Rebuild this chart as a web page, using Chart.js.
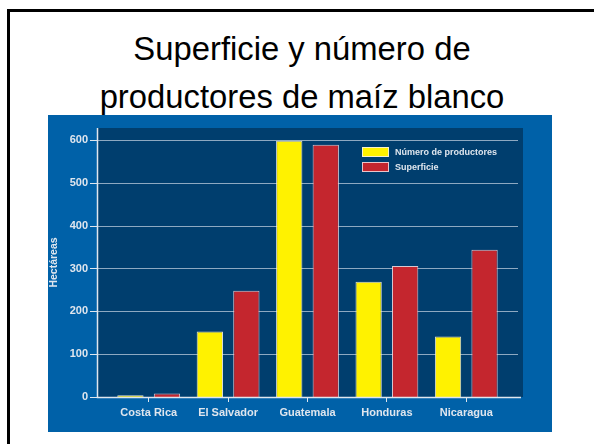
<!DOCTYPE html>
<html lang="es">
<head>
<meta charset="utf-8">
<script src="https://cdn.jsdelivr.net/npm/chart.js@4/dist/chart.umd.min.js"></script>
<style>
  html, body { margin: 0; padding: 0; background: #fff; }
  body { width: 594px; height: 444px; position: relative; overflow: hidden; }
  #frame {
    position: absolute; left: 7px; top: 9px; width: 600px; height: 450px;
    border-left: 3px solid #000; border-top: 3px solid #000;
  }
  #titulo {
    position: absolute; left: 7px; top: 25px; width: 590px;
    text-align: center; font-family: "Liberation Sans", Arial, sans-serif;
    font-size: 32.8px; line-height: 47.5px; color: #000;
  }
  #caja { position: absolute; left: 48px; top: 115px; width: 504px; height: 317px; background: #0061a8; }
</style>
</head>
<body>
<div id="frame"></div>
<div id="titulo">Superficie y número de<br>productores de maíz blanco</div>
<div id="caja"><canvas id="grafico" width="504" height="317"></canvas></div>

<script>
// ── Datos ──
const paises = ['Costa Rica', 'El Salvador', 'Guatemala', 'Honduras', 'Nicaragua'];
const productores = [4, 153, 598, 269, 141];
const superficie = [8, 248, 589, 306, 344];
const ticksY = [0, 100, 200, 300, 400, 500, 600];

const AZUL_OSCURO = '#003e6e';
const TEXTO = '#dfe6ee';
const fuente = { family: '"Liberation Sans", Arial, sans-serif', weight: 'bold', size: 11 };

// fondo oscuro, rejilla y ejes dibujados a mano para calzar con la lámina
const fondoPlugin = {
  id: 'fondo',
  beforeDraw(chart) {
    const { ctx, chartArea } = chart;
    const x0 = chartArea.left - 12;
    ctx.save();
    ctx.fillStyle = AZUL_OSCURO;
    ctx.fillRect(x0, chartArea.top, chartArea.right + 17 - x0, chartArea.bottom - chartArea.top);
    ctx.restore();
  },
  beforeDatasetsDraw(chart) {
    const { ctx, chartArea, scales } = chart;
    const x0 = chartArea.left - 12;
    ctx.save();
    ctx.lineWidth = 1;
    ticksY.forEach(v => {
      const y = Math.round(scales.y.getPixelForValue(v)) + 0.5;
      if (v > 0) {
        ctx.strokeStyle = 'rgba(190,205,222,0.75)';
        ctx.beginPath();
        ctx.moveTo(x0, y);
        ctx.lineTo(chartArea.right + 12, y);
        ctx.stroke();
      }
      ctx.strokeStyle = TEXTO;
      ctx.beginPath();
      ctx.moveTo(x0 - 7, y);
      ctx.lineTo(x0, y);
      ctx.stroke();
    });
    ctx.restore();
  },
  afterDatasetsDraw(chart) {
    const { ctx, chartArea } = chart;
    const x0 = chartArea.left - 12 + 0.5;
    const yb = Math.round(chartArea.bottom) + 0.5;
    ctx.save();
    ctx.strokeStyle = TEXTO;
    ctx.lineWidth = 1.5;
    ctx.beginPath();
    ctx.moveTo(x0, chartArea.top);
    ctx.lineTo(x0, yb);
    ctx.lineTo(chartArea.right + 15, yb);
    ctx.stroke();
    ctx.restore();
  },
  afterDraw(chart) {
    // leyenda dentro del área del gráfico
    const { ctx } = chart;
    ctx.save();
    ctx.font = 'bold 9px "Liberation Sans", Arial, sans-serif';
    ctx.textBaseline = 'middle';
    chart.data.datasets.forEach((ds, i) => {
      const y = 32 + i * 15;
      ctx.fillStyle = ds.backgroundColor;
      ctx.fillRect(314, y, 27, 10);
      ctx.strokeStyle = ds.borderColor;
      ctx.lineWidth = 1;
      ctx.strokeRect(314.5, y + 0.5, 26, 9);
      ctx.fillStyle = TEXTO;
      ctx.fillText(ds.label, 347, y + 5.5);
    });
    ctx.restore();
  }
};

new Chart(document.getElementById('grafico'), {
  type: 'bar',
  data: {
    labels: paises,
    datasets: [
      {
        label: 'Número de productores',
        data: productores,
        backgroundColor: '#fff200',
        borderColor: 'rgba(245,240,225,0.9)',
        borderWidth: 1,
      },
      {
        label: 'Superficie',
        data: superficie,
        backgroundColor: '#c4262e',
        borderColor: 'rgba(240,215,220,0.9)',
        borderWidth: 1,
      },
    ],
  },
  options: {
    responsive: false,
    animation: false,
    categoryPercentage: 0.92,
    barPercentage: 0.72,
    layout: { padding: { left: 0, right: 46, top: 13, bottom: 0 } },
    plugins: { legend: { display: false }, tooltip: { enabled: false } },
    scales: {
      x: {
        offset: true,
        grid: { display: true, drawOnChartArea: false, drawTicks: true, tickLength: 5, color: TEXTO, offset: false },
        border: { display: false },
        ticks: { color: TEXTO, font: fuente, padding: 4, maxRotation: 0, autoSkip: false },
        afterFit(scale) { scale.height = 35; },
      },
      y: {
        min: 0,
        max: 628,
        // la rejilla se dibuja en el plugin; tickLength solo separa las etiquetas del eje
        grid: { display: false, drawTicks: true, tickLength: 21 },
        border: { display: false },
        ticks: { stepSize: 100, color: TEXTO, font: fuente, padding: 0 },
        afterBuildTicks(scale) { scale.ticks = ticksY.map(v => ({ value: v })); },
        title: {
          display: true,
          text: 'Hectáreas',
          color: TEXTO,
          font: { family: '"Liberation Sans", Arial, sans-serif', weight: 'bold', size: 10.5 },
          padding: { top: 0, bottom: 0 },
        },
        afterFit(scale) { scale.width = 61; },
      },
    },
  },
  plugins: [fondoPlugin],
});
</script>
</body>
</html>
